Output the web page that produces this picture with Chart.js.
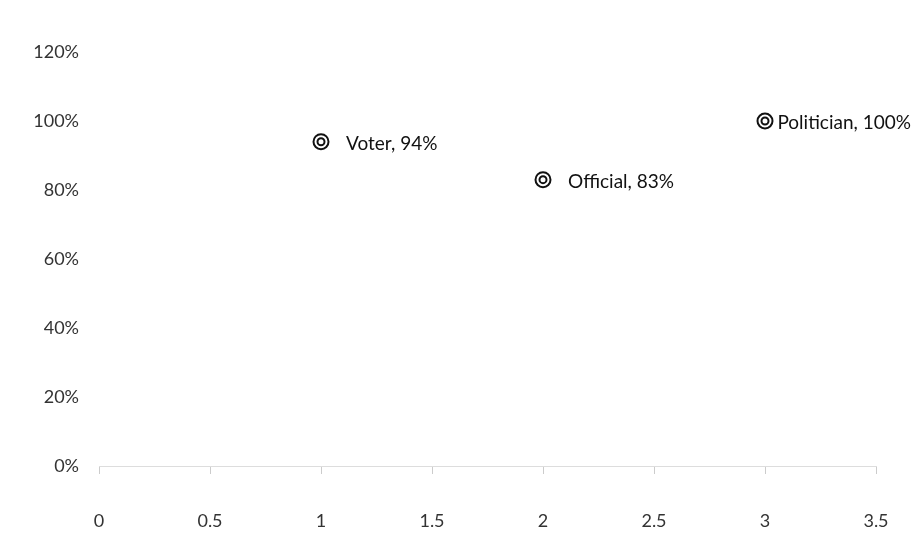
<!DOCTYPE html>
<html>
<head>
<meta charset="utf-8">
<script src="https://cdn.jsdelivr.net/npm/chart.js@4/dist/chart.umd.min.js"></script>
<style>
  html, body { margin: 0; padding: 0; background: #fff; }
  #wrap { width: 914px; height: 538px; }
</style>
</head>
<body>
<div id="wrap"><canvas id="roles"></canvas></div>
<script>
const roles = ['Voter', 'Official', 'Politician'];
const xValues = [1, 2, 3];
const shares = [0.94, 0.83, 1.00];
const xTicks = [0, 0.5, 1, 1.5, 2, 2.5, 3, 3.5];
const yTicks = [0, 0.2, 0.4, 0.6, 0.8, 1.0, 1.2];

const points = xValues.map((x, i) => ({ x: x, y: shares[i] }));
const pct = v => Math.round(v * 100) + '%';
const FONT = 'Lato, "Open Sans", sans-serif';

// writes "Role, NN%" beside each marker, kept inside the canvas
const pointLabels = {
    id: 'pointLabels',
    afterDatasetsDraw(chart) {
        const ctx = chart.ctx;
        const meta = chart.getDatasetMeta(0);
        ctx.save();
        ctx.font = '19px ' + FONT;
        ctx.fillStyle = '#111';
        ctx.textBaseline = 'middle';
        meta.data.forEach((pt, i) => {
            const text = roles[i] + ', ' + pct(shares[i]);
            const w = ctx.measureText(text).width;
            let x = pt.x + 25;
            if (x + w > chart.width - 3) x = chart.width - 3 - w;
            ctx.fillText(text, x, pt.y + 2);
        });
        ctx.restore();
    }
};

new Chart(document.getElementById('roles'), {
    type: 'scatter',
    data: {
        datasets: [{
            // outer ring
            data: points,
            pointRadius: 7.5,
            pointBorderWidth: 2,
            pointBorderColor: '#111',
            pointBackgroundColor: 'rgba(0,0,0,0)'
        },
        {
            // inner ring
            data: points,
            pointRadius: 3.5,
            pointBorderWidth: 2,
            pointBorderColor: '#111',
            pointBackgroundColor: '#fff'
        }]
    },
    options: {
        responsive: true,
        maintainAspectRatio: false,
        animation: false,
        layout: { padding: { top: 52, right: 38, left: 0, bottom: 0 } },
        plugins: {
            legend: { display: false },
            tooltip: { enabled: false }
        },
        scales: {
            x: {
                type: 'linear',
                min: 0,
                max: 3.5,
                afterBuildTicks: scale => { scale.ticks = xTicks.map(v => ({ value: v })); },
                afterFit: scale => {
                    scale.height = 72;
                    // the large tick padding would otherwise widen the side gaps
                    scale.paddingLeft = 0;
                    scale.paddingRight = 0;
                },
                border: { color: '#ddd', dash: [3, 4] },
                grid: { drawOnChartArea: false, tickLength: 8, color: '#ccc' },
                ticks: {
                    padding: 36,
                    color: '#333',
                    font: { family: FONT, size: 18 },
                    callback: v => String(v)
                }
            },
            y: {
                min: 0,
                max: 1.2,
                afterBuildTicks: scale => { scale.ticks = yTicks.map(v => ({ value: v })); },
                afterFit: scale => { scale.width = 99; },
                border: { display: false },
                grid: { display: false },
                ticks: {
                    padding: 12,
                    color: '#333',
                    font: { family: FONT, size: 18 },
                    callback: v => pct(v)
                }
            }
        }
    },
    plugins: [pointLabels]
});
</script>
</body>
</html>
